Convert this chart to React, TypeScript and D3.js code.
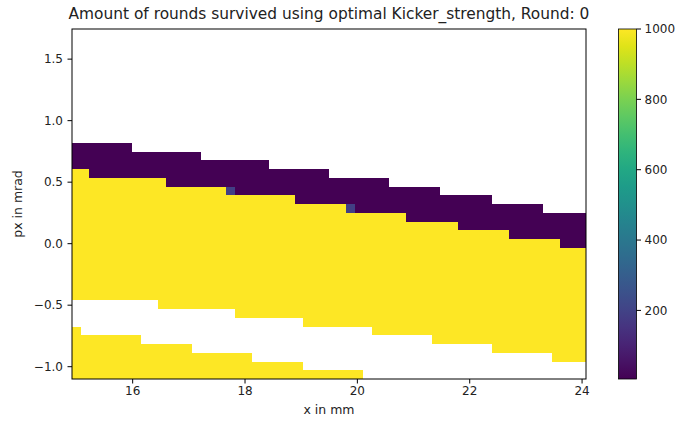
import React from "react";
import * as d3 from "d3";

// ---- data ----
const title = "Amount of rounds survived using optimal Kicker_strength, Round: 0";
const xLabel = "x in mm";
const yLabel = "px in mrad";
const xDomain = [14.92, 24.07];
const pxDomain = [-1.1, 1.745];
const nCols = 60;
const nRows = 40; // row 0 at the top (highest px)
const xTicks = [16, 18, 20, 22, 24];
const yTicks = [-1.0, -0.5, 0.0, 0.5, 1.0, 1.5];
const cbTicks = [200, 400, 600, 800, 1000];
const vMin = 5;
const vMax = 1000;
const lowValue = 5;
const highValue = 1000;

// first row (from top) holding data in each column
const purpleTopRow = [
  13, 13, 13, 13, 13, 13, 13,
  14, 14, 14, 14, 14, 14, 14, 14,
  15, 15, 15, 15, 15, 15, 15, 15,
  16, 16, 16, 16, 16, 16, 16,
  17, 17, 17, 17, 17, 17, 17,
  18, 18, 18, 18, 18, 18,
  19, 19, 19, 19, 19, 19,
  20, 20, 20, 20, 20, 20,
  21, 21, 21, 21, 21,
];
// first row of the yellow (1000) region in each column
const yellowTopRow = [
  16, 16,
  17, 17, 17, 17, 17, 17, 17, 17, 17,
  18, 18, 18, 18, 18, 18, 18,
  19, 19, 19, 19, 19, 19, 19, 19,
  20, 20, 20, 20, 20, 20,
  21, 21, 21, 21, 21, 21, 21,
  22, 22, 22, 22, 22, 22,
  23, 23, 23, 23, 23, 23,
  24, 24, 24, 24, 24, 24,
  25, 25, 25,
];
// first empty row of the middle gap
const gapTopRow = [
  31, 31, 31, 31, 31, 31, 31, 31, 31, 31,
  32, 32, 32, 32, 32, 32, 32, 32, 32,
  33, 33, 33, 33, 33, 33, 33, 33,
  34, 34, 34, 34, 34, 34, 34, 34,
  35, 35, 35, 35, 35, 35, 35,
  36, 36, 36, 36, 36, 36, 36,
  37, 37, 37, 37, 37, 37, 37,
  38, 38, 38, 38,
];
// first row of the lower yellow band (40 = none)
const lowerBandRow = [
  34,
  35, 35, 35, 35, 35, 35, 35,
  36, 36, 36, 36, 36, 36,
  37, 37, 37, 37, 37, 37, 37,
  38, 38, 38, 38, 38, 38,
  39, 39, 39, 39, 39, 39, 39,
  40, 40, 40, 40, 40, 40, 40, 40, 40, 40, 40, 40, 40,
  40, 40, 40, 40, 40, 40, 40, 40, 40, 40, 40, 40, 40,
];
const specialCells = [
  { col: 18, row: 18, value: 190 },
  { col: 32, row: 20, value: 190 },
];

// ---- layout ----
const W = 679;
const H = 421;
const M = { left: 72, right: 586, top: 29, bottom: 379 };
const CB = { left: 618.5, right: 636.5, top: 29, bottom: 379 };
const FONT = "'DejaVu Sans', sans-serif";

export default function App() {
  const x = d3.scaleLinear().domain(xDomain).range([M.left, M.right]);
  const y = d3.scaleLinear().domain(pxDomain).range([M.bottom, M.top]);
  const color = d3.scaleSequential(d3.interpolateViridis).domain([vMin, vMax]);
  const cb = d3.scaleLinear().domain([vMin, vMax]).range([CB.bottom, CB.top]);

  const dx = (xDomain[1] - xDomain[0]) / nCols;
  const dy = (pxDomain[1] - pxDomain[0]) / nRows;

  const cells: { col: number; row: number; value: number }[] = [];
  for (let c = 0; c < nCols; c++) {
    for (let r = purpleTopRow[c]; r < nRows; r++) {
      let v: number | null;
      if (r < yellowTopRow[c]) v = lowValue;
      else if (r < gapTopRow[c]) v = highValue;
      else if (r >= lowerBandRow[c]) v = highValue;
      else v = null;
      const sp = specialCells.find((s) => s.col === c && s.row === r);
      if (sp) v = sp.value;
      if (v !== null) cells.push({ col: c, row: r, value: v });
    }
  }

  const fmt = (v: number) => d3.format(".1f")(v).replace("-", "\u2212");
  const stops = d3.range(0, 1.0001, 0.05);

  return (
    <svg
      width={W}
      height={H}
      style={{ position: "absolute", left: 0, top: 0, background: "#fff" }}
      fontFamily={FONT}
    >
      <defs>
        <linearGradient id="vir" x1="0" y1="1" x2="0" y2="0">
          {stops.map((t) => (
            <stop key={t} offset={t} stopColor={d3.interpolateViridis(t)} />
          ))}
        </linearGradient>
      </defs>
      <rect x={0} y={0} width={W} height={H} fill="#fff" />
      <g shapeRendering="crispEdges">
        {cells.map((d) => {
          const x0 = x(xDomain[0] + d.col * dx);
          const x1 = x(xDomain[0] + (d.col + 1) * dx);
          const yTop = y(pxDomain[1] - d.row * dy);
          const yBot = y(pxDomain[1] - (d.row + 1) * dy);
          return (
            <rect
              key={d.col + "_" + d.row}
              x={x0}
              y={yTop}
              width={x1 - x0}
              height={yBot - yTop}
              fill={color(d.value)}
            />
          );
        })}
      </g>
      {/* axes frame */}
      <rect
        x={M.left}
        y={M.top}
        width={M.right - M.left}
        height={M.bottom - M.top}
        fill="none"
        stroke="#000"
        strokeWidth={1}
      />
      {/* x ticks */}
      {xTicks.map((t) => (
        <g key={"x" + t}>
          <line x1={x(t)} x2={x(t)} y1={M.bottom} y2={M.bottom + 4.5} stroke="#000" />
          <text x={x(t)} y={M.bottom + 16} fontSize={12} textAnchor="middle" fill="#222">
            {t}
          </text>
        </g>
      ))}
      {/* y ticks */}
      {yTicks.map((t) => (
        <g key={"y" + t}>
          <line x1={M.left - 4.5} x2={M.left} y1={y(t)} y2={y(t)} stroke="#000" />
          <text x={M.left - 9} y={y(t) + 4.3} fontSize={12} textAnchor="end" fill="#222">
            {fmt(t)}
          </text>
        </g>
      ))}
      <text x={(M.left + M.right) / 2} y={414} fontSize={12.5} textAnchor="middle" fill="#222">
        {xLabel}
      </text>
      <text
        x={0}
        y={0}
        transform={`translate(22,${(M.top + M.bottom) / 2}) rotate(-90)`}
        fontSize={12.5}
        textAnchor="middle"
        fill="#222"
      >
        {yLabel}
      </text>
      <text x={(M.left + M.right) / 2} y={19} fontSize={15.4} textAnchor="middle" fill="#222">
        {title}
      </text>
      {/* colorbar */}
      <rect
        x={CB.left}
        y={CB.top}
        width={CB.right - CB.left}
        height={CB.bottom - CB.top}
        fill="url(#vir)"
        stroke="#000"
        strokeWidth={0.8}
      />
      {cbTicks.map((t) => (
        <g key={"c" + t}>
          <line x1={CB.right} x2={CB.right + 4.5} y1={cb(t)} y2={cb(t)} stroke="#000" />
          <text x={CB.right + 8} y={cb(t) + 4.3} fontSize={12} textAnchor="start" fill="#222">
            {t}
          </text>
        </g>
      ))}
    </svg>
  );
}
